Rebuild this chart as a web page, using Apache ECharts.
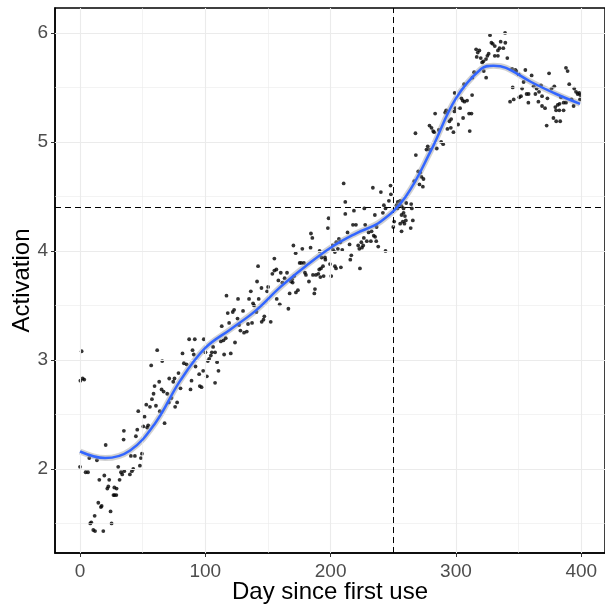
<!DOCTYPE html>
<html>
<head>
<meta charset="utf-8">
<script src="https://cdn.jsdelivr.net/npm/echarts@6/dist/echarts.min.js"></script>
<style>
  html, body { margin: 0; padding: 0; background: #fff; }
  #chart { width: 605px; height: 605px; }
</style>
</head>
<body>
<div id="chart"></div>
<script>
// observed points (day, activation)
var days = [
  0, 0.3, 1.3, 2.1, 3.4, 4.5, 6.4, 7.4, 8.2, 9, 10.6, 11.7, 12, 13.5, 14.6, 15.4, 16.7, 17.3, 18.6, 19.4,
  20.5, 21.8, 22.6, 23.3, 24.4, 25.2, 26.7, 27.4, 27.6, 29, 29.2, 30.5, 31.6, 32.7, 33.7, 34.8, 35, 35.3,
  39.8, 40.6, 41.4, 42.5, 43.8, 44.6, 45.7, 46.5, 47.8, 48.6, 49.4, 50.5, 51.5, 52.9, 53.6, 54.4, 55.8,
  56.8, 57.4, 58.7, 59.5, 60.6, 61.6, 63.2, 63.7, 65.1, 65.6, 66.7, 67.5, 69.6,
  70.9, 71.2, 73, 74.4, 75.4, 75.9, 77.5, 78.6, 80.2, 81.8, 82.9, 85, 87.1, 88.2, 89, 89.8, 90.8, 91.6,
  92.2, 95.1, 95.6, 97, 98.3, 98.8,
  100.1, 101.2, 102, 103.1, 104.4, 105.2, 106.2, 107.8, 107.8, 109.4, 110.5, 112.4, 113.1, 114.5, 115,
  116.3, 116.9, 117.9, 119, 120.3, 121.9, 123, 123.7, 125.7, 126.1, 126.9, 128, 130.1, 130.9,
  133.1, 134.1, 134.9, 136.3, 137.3, 138.1, 138.9, 140.8, 141.3, 142.1, 142.6, 144.8, 145, 146.4, 147.1,
  149.3, 150.1, 152.2, 153.5, 155.1, 155.1, 156.7, 157, 158.3, 159.4, 160.2, 161.5,
  163.3, 165.2, 166.3, 167.3, 168.4, 169.3, 169.7, 170.3, 170.9, 172.1, 172.3, 173.9, 175.3, 176.6,
  177.4, 178.7, 179.5, 180.3, 182.7, 184, 184.3, 185.4, 185.9, 187, 187.5, 188.3, 190.2, 190.9, 191.8,
  192.3, 192.8,
  191.2, 193.9, 194.4, 195.5, 195.8, 197.8, 198.4, 199.5, 200.5, 201.4, 201.9, 203.4, 203.4, 204.3,
  204.5, 205.8, 206.6, 207.7, 208.2, 209.3, 210.4, 211.7, 211.7, 213.5, 215.1, 215.7, 216.5, 217.8,
  218.6, 220.2, 222, 222.9, 223.4, 224.5, 225, 226, 226.9,
  226.5, 227.6, 228.9, 230.3, 232.1, 232.7, 233.7, 234.4, 235.3, 235.5, 236.4, 236.7, 238, 240.1, 241.7,
  242.5, 243.8, 243.8, 246.5, 247.8, 248.1, 250, 250.7, 252.6, 253.4, 253.6, 255.5, 255.5, 256.6, 256.6,
  256.6, 257.6,
  258.2, 258.2, 258.9, 259.3, 260, 260.3, 263.9, 264.3, 264.8, 265.6, 266.7, 267.7, 268, 269.9, 270.9,
  271.5, 272.5, 273.6, 274.1, 276.5, 277.5, 278.9, 278.9, 280.5, 281.8, 282.6, 283.4, 284.7, 286.3,
  288.2, 289.8,
  291.4, 292.2, 293.2, 294.8, 295.9, 296.2, 298, 298.8, 299, 299.6, 301.7, 303.3, 304.4, 305.4, 305.7,
  306.5, 306.8, 308.9, 310.5, 311, 312.4, 312.9, 313.1, 314.5, 316.1, 316.6, 317.4, 318.7, 319.8,
  320.9, 321.9, 322.2, 324, 324.1, 325.1, 326.1, 327.2, 328.3, 329.4, 331, 331, 333.5, 333.5, 334.8,
  335.7, 337.8, 339.2, 339.4, 341, 343.2, 344.8, 345.3, 346.1, 347.4, 348.2, 350.1, 350.6, 351.9, 352.8,
  354, 355.4, 356.4, 357.8, 358,
  360.4, 362, 363.4, 364.4, 365.8, 366.3, 367.9, 368.7, 368.7, 371.1, 372.4, 373, 374.3, 376.3, 377.8,
  378.5, 379.3, 379.9, 380, 381.2, 382.5, 382.7, 383.2, 383.8, 385.9, 385.9, 387.8, 387.8, 389.1, 390.4,
  392.3, 393.9, 394.4, 395.8, 397.1, 398.4, 399, 399.2
];
var activation = [
  2.02, 2.81, 3.08, 2.83, 2.82, 1.97, 1.97, 2.10, 1.50, 1.51, 1.44, 1.57, 1.43, 2.08, 1.69, 1.90, 1.65, 1.66, 1.43, 1.94,
  2.22, 1.82, 1.84, 1.90, 1.61, 1.50, 1.76, 1.83, 1.76, 1.76, 1.82, 2.02, 1.90, 1.97, 1.95, 2.27, 2.35, 1.98,
  1.95, 2.12, 1.98, 2.00, 2.12, 2.30, 2.36, 2.53, 2.03, 2.10, 2.14, 2.39, 2.48, 2.59, 2.38, 2.40, 2.57,
  2.95, 2.64, 2.69, 2.76, 2.58, 3.09, 2.80, 2.53, 2.73, 2.99, 2.71, 2.42, 2.69,
  2.61, 2.83, 2.65, 2.80, 2.83, 2.57, 2.61, 2.88, 2.74, 3.06, 2.97, 2.96, 3.19, 2.73, 2.81, 3.09, 3.05, 3.19,
  2.94, 2.87, 2.76, 2.75, 2.90, 3.19,
  3.07, 2.85, 2.99, 3.01, 3.04, 3.07, 3.12, 3.07, 2.79, 2.98, 2.90, 3.17, 3.31, 3.18, 3.05,
  3.20, 3.59, 3.43, 3.34, 3.06, 3.44, 3.46, 3.16, 3.38, 3.56, 3.32, 3.27, 3.45, 3.25,
  3.26, 3.33, 3.56, 3.63, 3.34, 3.52, 3.50, 3.44, 3.72, 3.86, 3.56, 3.66, 3.35, 3.37, 3.40,
  3.63, 3.67, 3.35, 3.79, 3.93, 3.82, 3.83, 3.56, 3.73, 3.51, 3.80, 3.71,
  3.75, 3.80, 3.47, 3.61, 3.72, 3.74, 3.71, 4.05, 3.77, 3.98, 3.62, 3.64, 3.89, 3.89,
  4.02, 3.89, 3.80, 3.78, 3.72, 4.03, 4.16, 4.12, 3.78, 3.61, 3.65, 3.78, 3.79, 3.83, 3.76,
  3.84, 3.94,
  4.00, 3.86, 3.77, 3.94, 3.92, 4.21, 4.30, 3.88, 3.77, 4.05, 4.01, 3.99, 3.86, 3.84,
  4.08, 4.02, 4.11, 4.08, 3.85, 4.01, 4.62, 4.45, 4.34, 4.17, 4.06, 3.92, 3.96, 4.24,
  4.37, 4.24, 4.05, 4.02, 3.84, 4.08, 4.03, 4.05, 4.39,
  4.12, 4.24, 4.09, 4.17, 4.09, 4.18, 4.58, 4.14, 4.33, 4.13, 4.09, 4.22, 4.04, 4.54, 4.35,
  4.42, 4.39, 4.00, 4.46, 4.60, 4.52, 4.22, 4.27, 4.42, 4.39, 4.45, 4.46, 4.25, 4.41, 4.33,
  4.18, 4.27,
  4.39, 4.35, 4.25, 4.32, 4.28, 4.44, 4.21, 4.43, 4.39, 4.28, 4.64, 5.08, 4.88, 4.73, 4.61,
  4.72, 4.68, 4.59, 4.66, 4.93, 4.96, 5.15, 4.93, 5.13, 5.10, 5.09, 5.26, 4.94, 5.11,
  5.00, 4.98,
  5.27, 5.29, 5.12, 5.19, 5.13, 5.21, 5.09, 5.28, 5.45, 5.31, 5.16, 5.31, 5.40, 5.38, 5.22,
  5.53, 5.37, 5.38, 5.26, 5.10, 5.26, 5.43, 5.59, 5.64, 5.85, 5.78, 5.82, 5.84, 5.77,
  5.73, 5.74, 5.65, 5.76, 5.59, 5.79, 5.81, 5.98, 5.91, 5.90, 5.88, 5.79, 5.84, 5.79, 5.86,
  5.92, 5.86, 6.00, 5.91, 5.77, 5.37, 5.67, 5.50, 5.39, 5.66, 5.65, 5.62, 5.41, 5.42, 5.49,
  5.55, 5.66, 5.44, 5.36, 5.44,
  5.61, 5.51, 5.44, 5.49, 5.37, 5.46, 5.52, 5.42, 5.33, 5.31, 5.15, 5.40, 5.63, 5.49, 5.22,
  5.51, 5.32, 5.29, 5.19, 5.34, 5.29, 5.35, 5.19, 5.41, 5.36, 5.29, 5.68, 5.36, 5.65, 5.53,
  5.39, 5.33, 5.49, 5.46, 5.44, 5.45, 5.39, 5.43
];

// smoothed fit
var fitDays = [0, 20, 40, 60, 80, 100, 120, 140, 160, 180, 200, 220, 240, 260, 280, 300, 320, 330, 340, 360, 380, 399];
var fitValues = [2.16, 2.10, 2.17, 2.42, 2.81, 3.11, 3.28, 3.45, 3.67, 3.86, 4.03, 4.16, 4.27, 4.50, 4.92,
  5.40, 5.67, 5.70, 5.68, 5.55, 5.44, 5.35];

var xTicks = [0, 100, 200, 300, 400];
var yTicks = [2, 3, 4, 5, 6];
var xMinor = [50, 150, 250, 350];
var yMinor = [1.5, 2.5, 3.5, 4.5, 5.5];
var refDay = 250;
var refActivation = 4.4;

var points = days.map(function (d, i) { return [d, activation[i]]; });
var fit = fitDays.map(function (d, i) { return [d, fitValues[i]]; });

function vLines(arr) { return arr.map(function (v) { return { xAxis: v }; }); }
function hLines(arr) { return arr.map(function (v) { return { yAxis: v }; }); }

var font = 'Liberation Sans, Arial, sans-serif';
var myChart = echarts.init(document.getElementById('chart'));

var option = {
  animation: false,
  grid: {
    left: 55, right: 0, top: 8, bottom: 52,
    outerBoundsMode: 'none',
    containLabel: false,
    show: true, borderColor: '#000', borderWidth: 1.5, backgroundColor: '#fff'
  },
  xAxis: {
    type: 'value',
    min: -19.95, max: 418.95,
    name: 'Day since first use',
    nameLocation: 'middle',
    nameGap: 27,
    nameMoveOverlap: false,
    nameTextStyle: { color: '#000', fontSize: 24, fontFamily: font, verticalAlign: 'top' },
    splitLine: { show: false },
    axisLine: { show: true, onZero: false, lineStyle: { color: '#000', width: 1.5 } },
    axisTick: { show: true, length: 4, customValues: xTicks, lineStyle: { color: '#333' } },
    axisLabel: { customValues: xTicks, margin: 9, color: '#4D4D4D', fontSize: 19, fontFamily: font }
  },
  yAxis: {
    type: 'value',
    min: 1.229, max: 6.229,
    name: 'Activation',
    nameLocation: 'middle',
    nameGap: 21,
    nameMoveOverlap: false,
    nameTextStyle: { color: '#000', fontSize: 24, fontFamily: font, verticalAlign: 'bottom' },
    splitLine: { show: false },
    axisLine: { show: true, onZero: false, lineStyle: { color: '#000', width: 1.5 } },
    axisTick: { show: true, length: 4, customValues: yTicks, lineStyle: { color: '#333' } },
    axisLabel: { customValues: yTicks, margin: 7, color: '#4D4D4D', fontSize: 19, fontFamily: font }
  },
  series: [{
    // minor grid
    type: 'line', data: [], silent: true, z: 1,
    markLine: {
      silent: true, symbol: 'none', label: { show: false },
      lineStyle: { color: '#EBEBEB', width: 0.6, type: 'solid' },
      data: vLines(xMinor).concat(hLines(yMinor))
    }
  }, {
    // major grid
    type: 'line', data: [], silent: true, z: 1,
    markLine: {
      silent: true, symbol: 'none', label: { show: false },
      lineStyle: { color: '#EBEBEB', width: 1.1, type: 'solid' },
      data: vLines(xTicks).concat(hLines(yTicks))
    }
  }, {
    type: 'scatter',
    data: points,
    symbolSize: 3.8,
    itemStyle: { color: '#000' },
    z: 3,
    markLine: {
      silent: true, symbol: 'none', label: { show: false },
      lineStyle: { color: '#000', width: 1, type: [6, 4] },
      data: [{ xAxis: refDay }, { yAxis: refActivation }]
    }
  }, {
    // confidence band look
    type: 'line', data: fit, smooth: 0.4, symbol: 'none', silent: true, z: 4,
    lineStyle: { color: 'rgba(153,153,153,0.45)', width: 6 }
  }, {
    type: 'line', data: fit, smooth: 0.4, symbol: 'none', z: 5,
    lineStyle: { color: '#3366FF', width: 2.5 }
  }]
};
myChart.setOption(option);
</script>
</body>
</html>
